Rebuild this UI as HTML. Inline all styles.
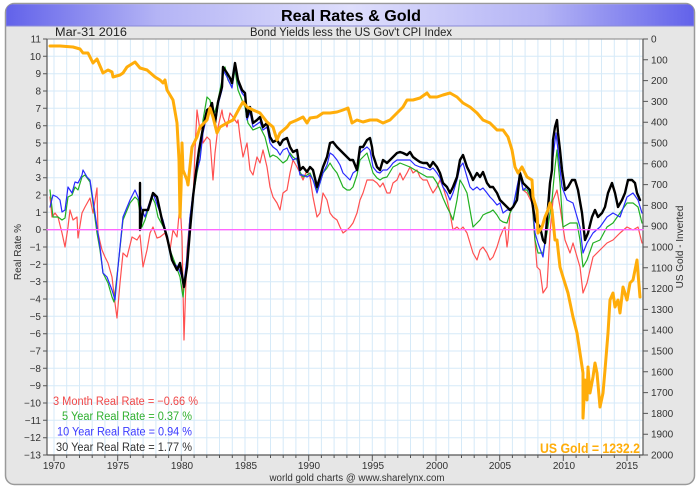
<!DOCTYPE html>
<html><head><meta charset="utf-8"><style>
html,body{margin:0;padding:0;background:#fff;}
svg{display:block;font-family:"Liberation Sans",sans-serif;}
</style></head><body>
<svg width="700" height="489" viewBox="0 0 700 489" xmlns="http://www.w3.org/2000/svg">
<defs>
<linearGradient id="tb" x1="0" x2="1" y1="0" y2="0">
<stop offset="0" stop-color="#6262ea"/><stop offset="0.22" stop-color="#b4b4f5"/><stop offset="0.5" stop-color="#dedefc"/><stop offset="0.78" stop-color="#b4b4f5"/><stop offset="1" stop-color="#6262ea"/>
</linearGradient>
</defs>
<rect x="0" y="0" width="700" height="489" fill="#fff"/>
<!-- frame -->
<rect x="5.5" y="3.5" width="689" height="481" rx="9" ry="9" fill="#e6e6e6" stroke="#9a9a9a" stroke-width="1.5"/>
<path d="M6.2,26 L6.2,12 Q6.2,4.2 14,4.2 L686,4.2 Q693.8,4.2 693.8,12 L693.8,26 Z" fill="url(#tb)"/>
<line x1="6" y1="26" x2="694" y2="26" stroke="#8a8ad8" stroke-width="1"/>
<text x="351" y="21" font-size="16" font-weight="bold" text-anchor="middle" fill="#000" textLength="140" lengthAdjust="spacingAndGlyphs">Real Rates &amp; Gold</text>
<text x="55" y="36" font-size="11.5" fill="#222" textLength="72" lengthAdjust="spacingAndGlyphs">Mar-31  2016</text>
<text x="250" y="36" font-size="11.5" fill="#222" textLength="202" lengthAdjust="spacingAndGlyphs">Bond Yields less the US Gov't CPI Index</text>
<!-- plot area -->
<rect x="47" y="39" width="596" height="416" fill="#fff"/>
<g stroke="#d6eaf8" stroke-width="1">
<path id="hg" d="M47,56.3H643M47,73.7H643M47,91H643M47,108.3H643M47,125.7H643M47,143H643M47,160.3H643M47,177.7H643M47,195H643M47,212.3H643M47,229.7H643M47,247H643M47,264.3H643M47,281.7H643M47,299H643M47,316.3H643M47,333.7H643M47,351H643M47,368.3H643M47,385.7H643M47,403H643M47,420.3H643M47,437.7H643"/>
<path d="M54,39V455M66.7,39V455M79.5,39V455M92.2,39V455M104.9,39V455M117.7,39V455M130.4,39V455M143.1,39V455M155.9,39V455M168.6,39V455M181.3,39V455M194.1,39V455M206.8,39V455M219.5,39V455M232.3,39V455M245,39V455M257.7,39V455M270.5,39V455M283.2,39V455M295.9,39V455M308.7,39V455M321.4,39V455M334.1,39V455M346.9,39V455M359.6,39V455M372.3,39V455M385.1,39V455M397.8,39V455M410.5,39V455M423.3,39V455M436,39V455M448.7,39V455M461.5,39V455M474.2,39V455M486.9,39V455M499.7,39V455M512.4,39V455M525.1,39V455M537.9,39V455M550.6,39V455M563.3,39V455M576.1,39V455M588.8,39V455M601.5,39V455M614.3,39V455M627,39V455M639.7,39V455"/>
</g>
<!-- axes -->
<g stroke="#555" stroke-width="1.2" fill="none">
<line x1="47" y1="39" x2="643" y2="39" stroke="#999"/>
<line x1="47" y1="39" x2="47" y2="455"/>
<line x1="643" y1="39" x2="643" y2="455"/>
<line x1="47" y1="455" x2="643" y2="455"/>
</g>
<g stroke="#555" stroke-width="1">
<path d="M43,39H47M43,56.3H47M43,73.7H47M43,91H47M43,108.3H47M43,125.7H47M43,143H47M43,160.3H47M43,177.7H47M43,195H47M43,212.3H47M43,229.7H47M43,247H47M43,264.3H47M43,281.7H47M43,299H47M43,316.3H47M43,333.7H47M43,351H47M43,368.3H47M43,385.7H47M43,403H47M43,420.3H47M43,437.7H47M43,455H47"/>
<path d="M643,39H648M643,59.8H648M643,80.6H648M643,101.4H648M643,122.2H648M643,143H648M643,163.8H648M643,184.6H648M643,205.4H648M643,226.2H648M643,247H648M643,267.8H648M643,288.6H648M643,309.4H648M643,330.2H648M643,351H648M643,371.8H648M643,392.6H648M643,413.4H648M643,434.2H648M643,455H648"/>
<path d="M54,455V461M66.7,455V458M79.5,455V458M92.2,455V458M104.9,455V458M117.7,455V461M130.4,455V458M143.1,455V458M155.9,455V458M168.6,455V458M181.3,455V461M194.1,455V458M206.8,455V458M219.5,455V458M232.3,455V458M245,455V461M257.7,455V458M270.5,455V458M283.2,455V458M295.9,455V458M308.7,455V461M321.4,455V458M334.1,455V458M346.9,455V458M359.6,455V458M372.3,455V461M385.1,455V458M397.8,455V458M410.5,455V458M423.3,455V458M436,455V461M448.7,455V458M461.5,455V458M474.2,455V458M486.9,455V458M499.7,455V461M512.4,455V458M525.1,455V458M537.9,455V458M550.6,455V458M563.3,455V461M576.1,455V458M588.8,455V458M601.5,455V458M614.3,455V458M627,455V461M639.7,455V458"/>
</g>
<!-- left labels -->
<g font-size="10" fill="#333" text-anchor="end">
<text x="41" y="42.5">11</text><text x="41" y="59.8">10</text><text x="41" y="77.2">9</text><text x="41" y="94.5">8</text><text x="41" y="111.8">7</text><text x="41" y="129.2">6</text><text x="41" y="146.5">5</text><text x="41" y="163.8">4</text><text x="41" y="181.2">3</text><text x="41" y="198.5">2</text><text x="41" y="215.8">1</text><text x="41" y="233.2">0</text><text x="41" y="250.5">−1</text><text x="41" y="267.8">−2</text><text x="41" y="285.2">−3</text><text x="41" y="302.5">−4</text><text x="41" y="319.8">−5</text><text x="41" y="337.2">−6</text><text x="41" y="354.5">−7</text><text x="41" y="371.8">−8</text><text x="41" y="389.2">−9</text><text x="41" y="406.5">−10</text><text x="41" y="423.8">−11</text><text x="41" y="441.2">−12</text><text x="41" y="458.5">−13</text>
</g>
<!-- right labels -->
<g font-size="10" fill="#333">
<text x="651" y="42.5">0</text><text x="651" y="63.3">100</text><text x="651" y="84.1">200</text><text x="651" y="104.9">300</text><text x="651" y="125.7">400</text><text x="651" y="146.5">500</text><text x="651" y="167.3">600</text><text x="651" y="188.1">700</text><text x="651" y="208.9">800</text><text x="651" y="229.7">900</text><text x="651" y="250.5">1000</text><text x="651" y="271.3">1100</text><text x="651" y="292.1">1200</text><text x="651" y="312.9">1300</text><text x="651" y="333.7">1400</text><text x="651" y="354.5">1500</text><text x="651" y="375.3">1600</text><text x="651" y="396.1">1700</text><text x="651" y="416.9">1800</text><text x="651" y="437.7">1900</text><text x="651" y="458.5">2000</text>
</g>
<!-- x labels -->
<g font-size="10" fill="#333" text-anchor="middle">
<text x="54" y="469">1970</text><text x="118" y="469">1975</text><text x="182" y="469">1980</text><text x="246" y="469">1985</text><text x="309" y="469">1990</text><text x="373" y="469">1995</text><text x="437" y="469">2000</text><text x="500" y="469">2005</text><text x="564" y="469">2010</text><text x="627" y="469">2015</text>
</g>
<text x="357" y="481" font-size="10" fill="#333" text-anchor="middle" textLength="175" lengthAdjust="spacingAndGlyphs">world gold charts @ www.sharelynx.com</text>
<text transform="translate(21,252) rotate(-90)" font-size="10" fill="#333" text-anchor="middle">Real Rate %</text>
<text transform="translate(683,247) rotate(-90)" font-size="10" fill="#333" text-anchor="middle">US Gold  -  Inverted</text>
<!-- series -->
<g fill="none" stroke-linejoin="round" stroke-linecap="round">
<polyline stroke="#ff5050" stroke-width="1.2" points="50,197 52,217 55,213 58,217 62,233 65,247 68,227 70,210 73,220 77,217 78,238 82,213 85,207 90,198 93,213 97,188 98,233 102,250 105,257 108,263 112,277 115,303 117,318 120,283 123,253 127,257 132,237 137,240 140,235 143,267 147,250 150,233 153,227 157,238 160,237 165,233 170,250 173,230 177,237 180,203 182,237 184,340 187,250 190,217 193,203 195,150 197,110 200,130 202,127 203,143 207,137 210,140 213,180 215,153 218,127 222,110 223,117 227,127 230,113 233,117 237,123 238,120 240,137 243,157 247,143 250,170 253,175 257,157 260,163 263,150 267,167 270,187 273,197 277,203 280,210 283,193 287,190 290,173 293,160 297,167 300,173 303,180 307,170 310,177 313,197 317,217 320,213 323,193 327,200 330,213 333,217 337,220 340,227 343,233 347,230 350,227 353,223 357,213 360,200 363,193 367,180 370,180 373,180 377,183 380,187 383,183 387,193 390,193 393,183 397,180 400,173 403,180 407,173 410,167 413,173 417,170 420,177 423,180 427,180 430,187 433,193 437,187 440,180 443,187 447,200 450,213 453,230 457,227 460,230 463,227 467,233 470,243 473,253 477,260 480,250 483,247 487,253 490,260 493,257 497,247 500,237 503,230 505,227 507,247 508,240 510,213 513,207 517,190 520,173 523,190 527,193 532,203 537,267 540,270 543,293 547,287 550,233 553,200 557,190 560,207 565,240 570,253 573,243 580,267 583,293 587,283 593,257 600,250 607,243 613,240 620,233 627,227 633,230 638,227 642,243"/>
<polyline stroke="#22b022" stroke-width="1.2" points="50,190 53,217 58,217 62,220 65,218 68,197 72,195 75,187 78,190 82,177 85,175 90,182 93,203 97,233 100,250 103,273 108,283 112,297 114,302 118,267 123,220 130,203 135,197 138,200 142,227 145,220 152,197 155,203 158,217 165,230 170,250 175,263 180,277 183,297 187,260 190,217 193,197 197,173 200,158 203,120 207,97 210,100 213,117 217,105 222,80 225,67 228,80 232,87 235,70 238,90 242,100 245,107 248,123 253,130 260,127 265,137 270,157 273,155 277,157 280,160 283,163 287,160 290,153 293,157 297,160 300,172 303,177 307,175 310,173 313,180 317,190 320,183 323,173 327,168 330,163 333,168 337,173 340,180 343,187 347,190 350,190 353,187 357,175 360,160 363,157 367,153 370,163 373,173 377,178 380,180 383,178 387,177 390,172 393,167 397,165 400,163 405,165 410,167 415,170 420,173 427,177 433,177 437,183 440,190 443,198 447,207 450,213 453,220 457,200 460,180 463,185 467,193 470,210 473,227 477,223 480,220 483,215 487,213 490,212 493,210 497,215 500,220 503,222 507,223 510,213 513,207 517,190 520,173 523,190 527,190 532,200 535,240 538,253 543,253 547,233 552,200 555,167 557,150 560,183 563,227 570,223 577,223 580,240 583,267 587,260 593,243 600,240 607,227 613,223 620,213 627,203 633,203 638,207 642,223"/>
<polyline stroke="#2a2aff" stroke-width="1.2" points="50,207 53,195 57,197 60,200 62,212 65,210 68,187 72,193 75,182 78,183 82,175 83,170 87,177 90,180 93,200 97,227 100,247 103,273 107,277 112,290 115,300 118,267 123,217 130,200 135,190 138,197 142,210 145,217 148,207 153,193 158,207 163,220 168,240 173,263 178,267 182,277 184,283 187,257 190,217 193,193 197,170 200,160 203,133 207,115 210,112 212,108 215,127 218,105 222,90 223,70 227,77 232,88 235,67 238,83 242,93 245,97 247,120 250,112 253,127 260,122 263,130 267,127 270,143 273,147 277,150 280,155 283,150 287,148 290,155 293,160 297,158 300,175 303,175 307,177 310,175 313,180 317,193 320,183 323,173 327,165 330,153 333,155 337,160 340,165 343,173 347,177 350,180 353,173 357,170 360,153 363,150 367,147 370,150 373,167 377,172 380,173 383,170 387,170 390,167 393,163 397,160 400,160 405,160 410,160 415,165 420,167 425,168 430,170 433,168 437,173 440,178 443,187 447,193 450,200 453,193 457,180 460,167 463,163 467,177 470,187 473,190 477,187 480,190 483,188 487,193 490,197 493,200 497,205 500,203 503,213 507,210 510,210 513,207 517,187 520,173 523,190 527,187 532,197 535,233 538,243 543,257 547,227 550,187 553,157 556,133 558,150 562,187 567,200 573,203 580,227 583,253 587,243 593,233 600,227 607,217 613,213 620,217 627,197 633,193 638,200 642,213"/>
<polyline stroke="#000" stroke-width="2.4" points="140,183 140,230 143,210 148,210 153,193 157,197 162,220 167,237 172,260 177,270 180,263 184,287 187,267 190,230 193,197 196,172 199,150 203,128 207,110 210,108 212,103 215,123 218,102 222,87 223,67 227,73 230,78 232,83 235,63 238,80 242,90 245,93 247,117 250,107 253,123 257,120 260,117 263,127 267,123 270,137 273,142 277,140 280,145 283,140 287,138 290,147 293,152 297,150 300,170 303,167 307,172 310,167 313,170 317,187 320,177 323,167 327,157 330,143 333,142 337,147 340,150 343,153 347,157 350,160 353,160 357,170 360,147 363,147 367,140 370,138 372,147 373,155 377,167 380,170 383,160 387,163 390,160 393,157 397,153 400,152 403,153 407,155 410,152 413,157 417,160 420,162 423,163 427,163 430,167 433,162 437,167 440,173 443,183 447,187 450,193 453,187 457,177 460,160 463,155 467,167 470,173 473,180 477,173 480,177 483,172 487,183 490,187 493,187 497,193 500,200 503,203 507,207 510,210 513,207 517,200 520,173 523,183 527,187 530,190 533,207 535,220 537,223 540,227 543,240 545,243 547,220 550,183 552,170 553,140 555,127 557,120 558,133 560,150 562,170 565,190 568,187 572,180 575,180 578,190 582,213 585,240 588,233 592,217 595,210 598,217 602,213 605,207 608,193 612,183 615,193 618,207 622,200 625,193 628,180 632,180 635,183 637,193 640,200"/>
<line x1="47" y1="229.7" x2="643" y2="229.7" stroke="#ff66ff" stroke-width="1.3"/>
<polyline stroke="#ffad0a" stroke-width="3" points="50,46 60,46 73,47 80,49 83,53 88,53 93,63 97,59 103,73 108,70 112,72 113,77 120,75 123,73 127,67 135,62 140,68 147,70 155,77 160,80 163,83 165,80 167,90 173,100 177,123 179,160 180,217 181,190 182,143 183,170 187,180 188,185 192,147 197,137 200,127 207,120 210,108 213,117 217,133 220,127 227,123 233,120 240,107 243,102 247,107 253,110 260,113 267,122 273,127 277,140 280,133 287,127 290,123 297,120 303,117 307,123 310,118 317,117 323,113 330,113 337,112 343,110 348,108 352,123 357,120 363,122 370,120 377,120 383,123 390,120 397,113 403,107 407,100 413,100 420,98 427,93 430,97 437,97 443,95 450,93 457,97 463,103 470,107 477,113 483,120 490,123 497,130 503,130 508,137 512,150 515,167 518,173 522,167 527,177 532,180 533,197 537,210 538,233 542,227 545,217 548,210 550,203 552,210 555,240 557,240 560,267 563,277 568,293 573,317 577,333 580,353 583,373 583,418 585,380 587,400 588,367 590,393 593,377 595,363 597,373 600,407 603,393 605,370 608,333 610,300 613,293 615,307 618,300 620,313 623,287 627,300 630,283 633,280 637,260 638,273 640,297"/>
</g>
<!-- legend -->
<g font-size="11.5">
<text x="53" y="405" fill="#f04848" textLength="145" lengthAdjust="spacingAndGlyphs">3 Month Real Rate = −0.66 %</text>
<text x="62" y="420" fill="#30b030" textLength="130" lengthAdjust="spacingAndGlyphs">5 Year Real Rate = 0.37 %</text>
<text x="57" y="435.5" fill="#3a3aff" textLength="135" lengthAdjust="spacingAndGlyphs">10 Year Real Rate = 0.94 %</text>
<text x="56" y="451" fill="#333" textLength="136" lengthAdjust="spacingAndGlyphs">30 Year Real Rate = 1.77 %</text>
</g>
<text x="640" y="453" font-size="14" font-weight="bold" fill="#ffad0a" text-anchor="end" textLength="100" lengthAdjust="spacingAndGlyphs">US Gold = 1232.2</text>
</svg>
</body></html>
